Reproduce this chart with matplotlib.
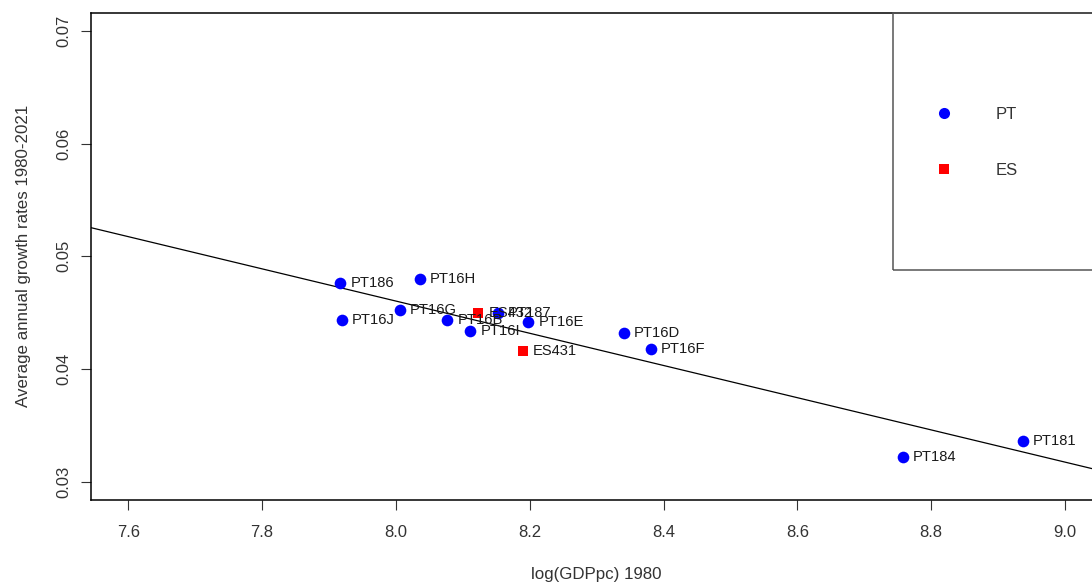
import numpy as np
import matplotlib
matplotlib.use("Agg")
import matplotlib.pyplot as plt
from matplotlib.patches import Rectangle
from matplotlib.lines import Line2D

plt.rcParams['font.family'] = ['Liberation Sans', 'DejaVu Sans']

# NUTS-3 regions: log GDP per capita in 1980 vs average annual growth 1980-2021
pt_regions = ["PT186", "PT16H", "PT16G", "PT16J", "PT187", "PT16B",
              "PT16I", "PT16E", "PT16D", "PT16F", "PT184", "PT181"]
pt_loggdp = [7.917, 8.036, 8.006, 7.919, 8.152, 8.077,
             8.111, 8.198, 8.341, 8.381, 8.758, 8.937]
pt_growth = [0.0476, 0.0480, 0.0452, 0.0444, 0.0450, 0.0444,
             0.0434, 0.0442, 0.0432, 0.0418, 0.0322, 0.0336]

es_regions = ["ES432", "ES431"]
es_loggdp = [8.123, 8.190]
es_growth = [0.0450, 0.0416]

x_ticks = [7.6, 7.8, 8.0, 8.2, 8.4, 8.6, 8.8, 9.0]
y_ticks = [0.03, 0.04, 0.05, 0.06, 0.07]
x_range = (7.6, 9.0)
y_range = (0.03, 0.07)

W, H = 1092, 585
fig = plt.figure(figsize=(W / 100, H / 100), dpi=100)
# plot region (the right part runs past the figure edge)
left, right, top, bottom = 90.7, 1102.5, 12.7, 500.0
ax = fig.add_axes([left / W, (H - bottom) / H, (right - left) / W, (bottom - top) / H])

# R-style 4% padding around the axis ranges
xpad = 0.04 * (x_range[1] - x_range[0])
ypad = 0.04 * (y_range[1] - y_range[0])
ax.set_xlim(x_range[0] - xpad, x_range[1] + xpad)
ax.set_ylim(y_range[0] - ypad, y_range[1] + ypad)

# OLS line through all regions
all_x = np.array(pt_loggdp + es_loggdp)
all_y = np.array(pt_growth + es_growth)
slope, intercept = np.polyfit(all_x, all_y, 1)
xs = np.array(ax.get_xlim())
ax.plot(xs, intercept + slope * xs, color="black", lw=0.9, zorder=2)

ax.plot(pt_loggdp, pt_growth, "o", color="#0000ff", ms=8.4, mew=0, zorder=3)
ax.plot(es_loggdp, es_growth, "s", color="#ff0000", ms=7.6, mew=0, zorder=3)

for name, x, y in zip(pt_regions + es_regions, pt_loggdp + es_loggdp, pt_growth + es_growth):
    ax.annotate(name, (x, y), xytext=(7.3, 0), textcoords="offset points",
                ha="left", va="center", fontsize=10.6, color="#1a1a1a", zorder=4)

ax.set_xticks(x_ticks)
ax.set_xticklabels([f"{v:.1f}" for v in x_ticks])
ax.set_yticks(y_ticks)
ax.set_yticklabels([f"{v:.2f}" for v in y_ticks], rotation=90, va="center")
ax.tick_params(axis="both", direction="out", length=7.2, width=0.8, color="#333333",
               labelsize=12, labelcolor="#333333")
ax.tick_params(axis="x", pad=10.5)
ax.tick_params(axis="y", pad=7)

for s in ax.spines.values():
    s.set_linewidth(1.1)
    s.set_color("black")

ax.set_xlabel("log(GDPpc) 1980", fontsize=12.2, color="#333333", labelpad=20)
ax.set_ylabel("Average annual growth rates 1980-2021", fontsize=12.2, color="#333333", labelpad=18)

# legend box in the top-right corner
lx0 = (892.7 - left) / (right - left)
ly0 = (bottom - 270.0) / (bottom - top)
ax.add_patch(Rectangle((lx0, ly0), 1 - lx0, 1 - ly0, transform=ax.transAxes,
                       fill=False, edgecolor="#555555", lw=1.1, zorder=5, clip_on=False))
handles = [Line2D([], [], ls="none", marker="o", color="#0000ff", ms=8.0, mew=0),
           Line2D([], [], ls="none", marker="s", color="#ff0000", ms=7.4, mew=0)]
fs = 12.0
fs_px = fs * 100 / 72
marker_x = 944.3
leg_left = marker_x - fs_px  # handlelength 2 -> marker at one font size from the left
leg = ax.legend(handles, ["PT", "ES"], loc="center left",
                bbox_to_anchor=((leg_left - left) / (right - left), (bottom - 142.5) / (bottom - top)),
                frameon=False, fontsize=fs, borderpad=0, borderaxespad=0,
                handlelength=2.0, handletextpad=(995.7 - marker_x - fs_px) / fs_px,
                labelspacing=2.47)
for t in leg.get_texts():
    t.set_color("#333333")

fig.savefig("out.png", dpi=100)
